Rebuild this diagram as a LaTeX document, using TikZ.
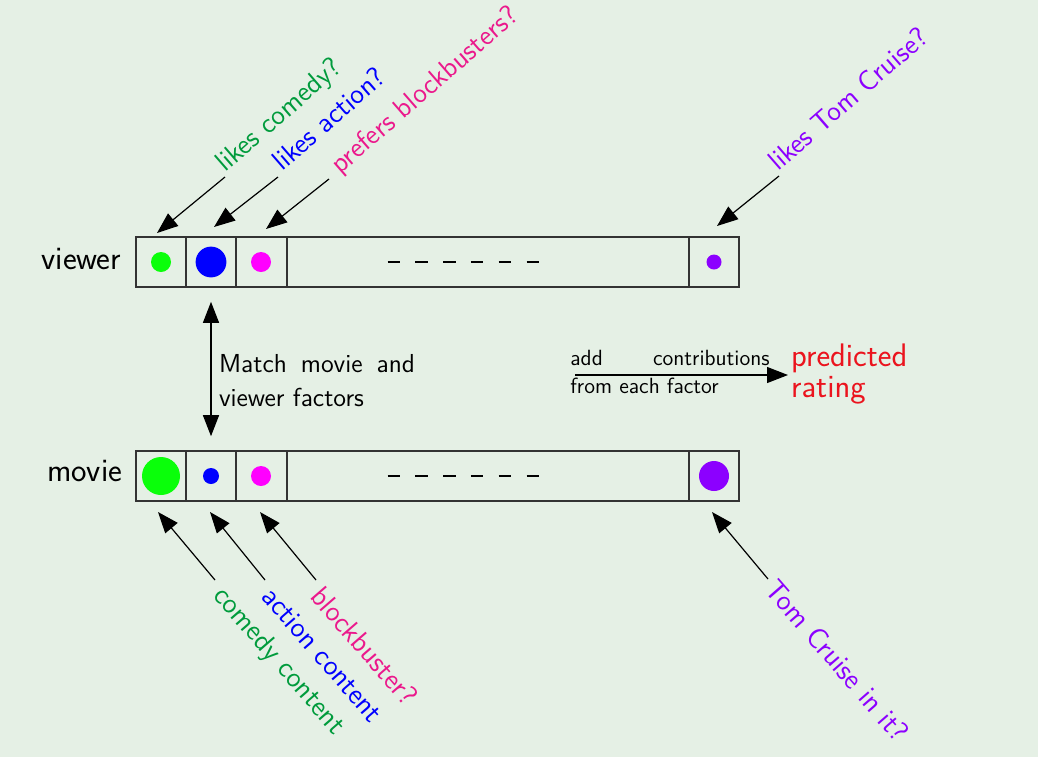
\documentclass[tikz,border=0pt]{standalone}
\usepackage{fontspec}
\usetikzlibrary{arrows.meta}
\definecolor{bg}{RGB}{229,240,229}
\definecolor{dgreen}{RGB}{10,255,10}
\definecolor{tgreen}{RGB}{0,155,60}
\definecolor{tpink}{RGB}{235,25,140}
\definecolor{dmag}{RGB}{255,0,255}
\definecolor{purp}{RGB}{140,0,255}
\definecolor{predred}{RGB}{235,20,30}
\tikzset{
  cell/.style={draw=black!80, line width=0.8pt, minimum height=25pt, inner sep=0pt},
  arr/.style={-{Triangle[length=10.5pt,width=8pt]}, line width=0.6pt},
  darr/.style={{Triangle[length=10.5pt,width=8pt]}-{Triangle[length=10.5pt,width=8pt]}, line width=0.6pt},
  rowlab/.style={font=\sffamily\fontsize{16.4}{18}\selectfont, inner sep=0pt, anchor=base east},
  toplab/.style={font=\sffamily\fontsize{14}{16}\selectfont, inner sep=0pt, anchor=base west, rotate=41},
  botlab/.style={font=\sffamily\fontsize{14.3}{16}\selectfont, inner sep=0pt, anchor=base west, rotate=-49},
  matchtxt/.style={font=\sffamily\fontsize{13}{15}\selectfont, inner sep=0pt, anchor=base west},
  addtxt/.style={font=\sffamily\fontsize{11}{13}\selectfont, inner sep=0pt, anchor=base west},
  predtxt/.style={font=\sffamily\fontsize{16.3}{18}\selectfont, inner sep=0pt, anchor=base west, text=predred},
  dashrow/.style={line width=1.35pt, dash pattern=on 6.25pt off 7.65pt}
}
\begin{document}
\begin{tikzpicture}[x=0.5pt,y=-0.5pt]
\fill[bg] (0,0) rectangle (1038,757);
\useasboundingbox (0,0) rectangle (1038,757);

% viewer row
\node[cell, minimum width=25pt]   (v1) at (161,262) {};
\node[cell, minimum width=25pt]   (v2) at (211,262) {};
\node[cell, minimum width=25.5pt] (v3) at (261.5,262) {};
\node[cell, minimum width=201pt]  (vd) at (488,262) {};
\node[cell, minimum width=25pt]   (v5) at (714,262) {};
\fill[dgreen] (v1) circle[radius=5pt];
\fill[blue]   (v2) circle[radius=7.7pt];
\fill[dmag]   (v3.center) ++(-0.5,0) circle[radius=5pt];
\fill[purp]   (v5) circle[radius=3.75pt];
\draw[dashrow] (387.5,262) -- (539,262);
\node[rowlab] (vl) at (121.5,269.3) {viewer};

% movie row
\node[cell, minimum width=25pt]   (m1) at (161,476) {};
\node[cell, minimum width=25pt]   (m2) at (211,476) {};
\node[cell, minimum width=25.5pt] (m3) at (261.5,476) {};
\node[cell, minimum width=201pt]  (md) at (488,476) {};
\node[cell, minimum width=25pt]   (m5) at (714,476) {};
\fill[dgreen] (m1) circle[radius=9.5pt];
\fill[blue]   (m2) circle[radius=4pt];
\fill[dmag]   (m3.center) ++(-0.5,0) circle[radius=5pt];
\fill[purp]   (m5) circle[radius=7.5pt];
\draw[dashrow] (387.5,476) -- (539,476);
\node[rowlab] (ml) at (122.5,481.7) {movie};

% match arrow
\draw[darr, shorten <=7pt, shorten >=7pt] (v2.south) -- (m2.north);
\node[matchtxt] (mt1) at (218.6,372.7) {\makebox[98pt][s]{Match movie and}};
\node[matchtxt] (mt2) at (218.6,406.7) {viewer factors};

% add contributions
\coordinate (addS) at (575,375);
\coordinate (addE) at (788,375);
\draw[arr] (addS) -- (addE);
\node[addtxt] (a1) at (570,365.7) {\makebox[99.6pt][s]{add contributions}};
\node[addtxt] (a2) at (570,393.3) {from each factor};
\node[predtxt] (p1) at (790.7,366.7) {predicted};
\node[predtxt] (p2) at (790.7,397.3) {rating};

% top labels
\coordinate (tc1) at (225,177); \coordinate (hc1) at (157,233);
\coordinate (tc2) at (278,177); \coordinate (hc2) at (214,227);
\coordinate (tc3) at (329,179); \coordinate (hc3) at (266,229);
\coordinate (tc5) at (779,176); \coordinate (hc5) at (717,226);
\draw[arr] (tc1) -- (hc1);
\draw[arr] (tc2) -- (hc2);
\draw[arr] (tc3) -- (hc3);
\draw[arr] (tc5) -- (hc5);
\node[toplab, text=tgreen] (l1) at (225,173) {likes comedy?};
\node[toplab, text=blue]   (l2) at (282,172) {likes action?};
\node[toplab, text=tpink]  (l3) at (340,175) {prefers blockbusters?};
\node[toplab, text=purp]   (l5) at (778,172) {likes Tom Cruise?};

% bottom labels
\coordinate (bt1) at (215,580); \coordinate (bh1) at (158,512);
\coordinate (bt2) at (265,580); \coordinate (bh2) at (210,512);
\coordinate (bt3) at (316,580); \coordinate (bh3) at (260,512);
\coordinate (bt5) at (768,579); \coordinate (bh5) at (712,512);
\draw[arr] (bt1) -- (bh1);
\draw[arr] (bt2) -- (bh2);
\draw[arr] (bt3) -- (bh3);
\draw[arr] (bt5) -- (bh5);
\node[botlab, text=tgreen] (c1) at (212,596) {comedy content};
\node[botlab, text=blue]   (c2) at (260,597) {action content};
\node[botlab, text=tpink]  (c3) at (309,597) {blockbuster?};
\node[botlab, text=purp]   (c5) at (763,590) {Tom Cruise in it?};
\end{tikzpicture}
\end{document}
